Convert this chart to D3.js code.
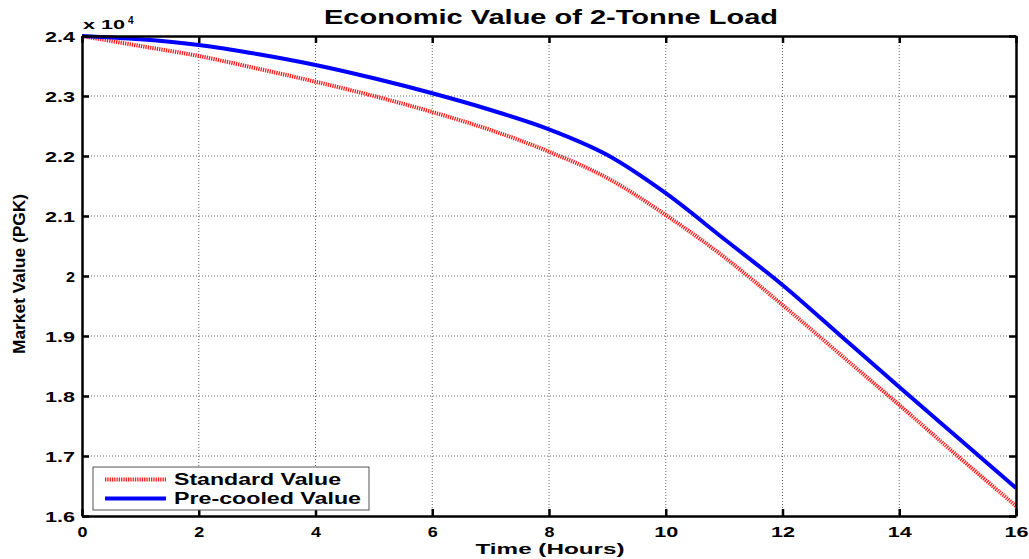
<!DOCTYPE html>
<html>
<head>
<meta charset="utf-8">
<script src="https://cdn.jsdelivr.net/npm/d3@7"></script>
<style>
  body { margin: 0; background: #fff; }
  svg { display: block; font-family: "Liberation Sans", Arial, sans-serif; }
</style>
</head>
<body>
<div id="chart"></div>
<script>
// hours
const hours = [0, 1, 2, 3, 4, 5, 6, 7, 8, 9, 10, 11, 12, 13, 14, 15, 16];
// market value, x 10^4 PGK
const standardValue = [2.4, 2.3833, 2.3667, 2.3458, 2.3238, 2.3, 2.2733, 2.2433, 2.2072, 2.1633, 2.1017, 2.0317, 1.9517, 1.8683, 1.785, 1.70, 1.6167];
const precooledValue = [2.4, 2.3945, 2.385, 2.37, 2.3517, 2.3295, 2.3045, 2.2767, 2.2445, 2.2017, 2.138, 2.0617, 1.985, 1.90, 1.815, 1.7308, 1.6467];
const xTicks = [0, 2, 4, 6, 8, 10, 12, 14, 16];
const yTicks = [1.6, 1.7, 1.8, 1.9, 2, 2.1, 2.2, 2.3, 2.4];
const seriesNames = ["Standard Value", "Pre-cooled Value"];

const W = 1029, H = 559;
const margin = { top: 36, right: 13, bottom: 43, left: 82 };
const width = W - margin.left - margin.right;
const height = H - margin.top - margin.bottom;

const svg = d3.select("#chart").append("svg")
  .attr("width", W)
  .attr("height", H);

const g = svg.append("g")
  .attr("transform", `translate(${margin.left},${margin.top})`);

const x = d3.scaleLinear().domain([0, 16]).range([0, width]);
const y = d3.scaleLinear().domain([1.6, 2.4]).range([height, 0]);

// grid
g.append("g").selectAll("line")
  .data(xTicks.slice(1, -1))
  .join("line")
  .attr("x1", d => x(d)).attr("x2", d => x(d))
  .attr("y1", 0).attr("y2", height)
  .attr("stroke", "#666").attr("stroke-width", 1)
  .attr("stroke-dasharray", "1,2");

g.append("g").selectAll("line")
  .data(yTicks.slice(1, -1))
  .join("line")
  .attr("x1", 0).attr("x2", width)
  .attr("y1", d => y(d)).attr("y2", d => y(d))
  .attr("stroke", "#666").attr("stroke-width", 1)
  .attr("stroke-dasharray", "1,2");

// lines
const line = d3.line()
  .x((d, i) => x(hours[i]))
  .y(d => y(d))
  .curve(d3.curveMonotoneX);

g.append("path")
  .datum(standardValue)
  .attr("d", line)
  .attr("fill", "none")
  .attr("stroke", "#ff1a1a")
  .attr("stroke-width", 4)
  .attr("stroke-dasharray", "1.3,1");

g.append("path")
  .datum(precooledValue)
  .attr("d", line)
  .attr("fill", "none")
  .attr("stroke", "#0000ff")
  .attr("stroke-width", 4);

// axes (matlab box, ticks inside)
const xAxis = g.append("g")
  .attr("transform", `translate(0,${height})`)
  .call(d3.axisBottom(x).tickValues(xTicks).tickSizeInner(-7).tickSizeOuter(0).tickPadding(0));
const xAxisTop = g.append("g")
  .call(d3.axisTop(x).tickValues(xTicks).tickSizeInner(-7).tickSizeOuter(0).tickFormat(""));
const yAxis = g.append("g")
  .call(d3.axisLeft(y).tickValues(yTicks).tickSizeInner(-7).tickSizeOuter(0).tickPadding(0)
    .tickFormat(d => d === 2 ? "2" : d3.format(".1f")(d)));
const yAxisRight = g.append("g")
  .attr("transform", `translate(${width},0)`)
  .call(d3.axisRight(y).tickValues(yTicks).tickSizeInner(-7).tickSizeOuter(0).tickFormat(""));

[xAxis, xAxisTop, yAxis, yAxisRight].forEach(a => {
  a.select(".domain").attr("stroke", "#000").attr("stroke-width", 2.5);
  a.selectAll(".tick line").attr("stroke", "#000").attr("stroke-width", 2.5);
  a.selectAll("text")
    .attr("fill", "#000")
    .style("font-family", "'Liberation Sans', Arial, sans-serif")
    .style("font-size", "15.5px")
    .style("font-weight", "bold")
    .attr("lengthAdjust", "spacingAndGlyphs");
});
xAxis.selectAll("text")
  .attr("y", 20.5).attr("dy", 0)
  .attr("textLength", d => String(d).length > 1 ? 24 : 10);
yAxis.selectAll("text")
  .attr("x", -7).attr("dy", "0.36em")
  .attr("textLength", d => d === 2 ? 9 : 30);

// exponent label
const expo = svg.append("text")
  .attr("x", margin.left + 1)
  .attr("y", 29)
  .style("font-size", "13px")
  .style("font-weight", "bold");
expo.append("tspan").attr("textLength", 42).attr("lengthAdjust", "spacingAndGlyphs").text("x 10");
expo.append("tspan").attr("x", margin.left + 46).attr("dy", -5).style("font-size", "10px").text("4");

// title
svg.append("text")
  .attr("x", 551)
  .attr("y", 24)
  .attr("text-anchor", "middle")
  .attr("textLength", 454)
  .attr("lengthAdjust", "spacingAndGlyphs")
  .style("font-size", "19.5px")
  .style("font-weight", "bold")
  .text("Economic Value of 2-Tonne Load");

// x label
svg.append("text")
  .attr("x", 550)
  .attr("y", 554)
  .attr("text-anchor", "middle")
  .attr("textLength", 149)
  .attr("lengthAdjust", "spacingAndGlyphs")
  .style("font-size", "15.5px")
  .style("font-weight", "bold")
  .text("Time (Hours)");

// y label
svg.append("text")
  .attr("transform", `translate(25,${margin.top + height / 2 - 2}) rotate(-90)`)
  .attr("text-anchor", "middle")
  .attr("textLength", 160)
  .attr("lengthAdjust", "spacingAndGlyphs")
  .style("font-size", "16px")
  .style("font-weight", "bold")
  .text("Market Value (PGK)");

// legend
const legend = g.append("g")
  .attr("transform", `translate(${x(0) + 11},${y(1.6) - 49})`);
legend.append("rect")
  .attr("width", 276).attr("height", 43)
  .attr("fill", "#fff").attr("stroke", "#555").attr("stroke-width", 1);

const legendItems = legend.selectAll("g.item")
  .data(seriesNames)
  .join("g")
  .attr("class", "item")
  .attr("transform", (d, i) => `translate(0,${12.5 + i * 19})`);

legendItems.append("line")
  .attr("x1", 12).attr("x2", 73)
  .attr("y1", 0).attr("y2", 0)
  .attr("stroke", (d, i) => i === 0 ? "#ff1a1a" : "#0000ff")
  .attr("stroke-width", 4)
  .attr("stroke-dasharray", (d, i) => i === 0 ? "1.3,1" : null);

legendItems.append("text")
  .attr("x", 81).attr("y", 5.8)
  .attr("textLength", (d, i) => i === 0 ? 167 : 187)
  .attr("lengthAdjust", "spacingAndGlyphs")
  .style("font-size", "16px")
  .style("font-weight", "bold")
  .text(d => d);
</script>
</body>
</html>
